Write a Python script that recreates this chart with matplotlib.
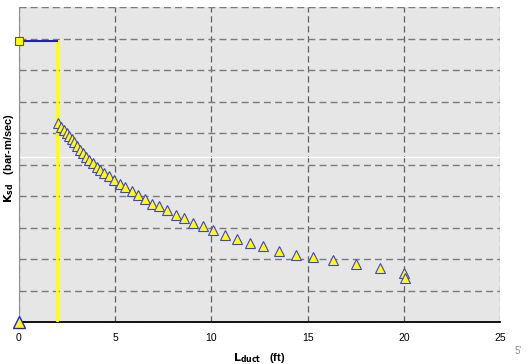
import matplotlib
matplotlib.use("Agg")
import matplotlib.pyplot as plt

plt.rcParams['font.family'] = ['Liberation Sans', 'DejaVu Sans']

# duct length (ft) and K_sd values (arbitrary y units, 10 grid steps)
l_duct = [2.03, 2.20, 2.34, 2.49, 2.60, 2.75, 2.87, 3.01, 3.17, 3.32,
          3.48, 3.64, 3.84, 4.05, 4.21, 4.42, 4.66, 4.95, 5.25, 5.51,
          5.87, 6.18, 6.55, 6.91, 7.27, 7.69, 8.16, 8.57, 9.04, 9.56,
          10.08, 10.70, 11.32, 12.00, 12.68, 13.50, 14.40, 15.27, 16.30, 17.50,
          18.75, 20.00, 20.05]
k_sd = [6.32, 6.19, 6.10, 6.00, 5.89, 5.81, 5.70, 5.59, 5.47, 5.37,
        5.25, 5.14, 5.04, 4.92, 4.83, 4.73, 4.62, 4.52, 4.38, 4.29,
        4.16, 4.03, 3.90, 3.76, 3.68, 3.56, 3.40, 3.30, 3.14, 3.05,
        2.92, 2.76, 2.63, 2.51, 2.41, 2.25, 2.13, 2.05, 1.97, 1.84,
        1.71, 1.56, 1.40]

# reference marker (square) and min length line
x_ref = [0, 2]
y_ref = [8.92, 8.92]
x_min = [2, 2]
y_min = [8.92, 0]

xticks = [0, 5, 10, 15, 20, 25]

fig = plt.figure(figsize=(5.29, 3.64), dpi=100)
ax = fig.add_axes([19/529, 42/364, 481/529, 315/364])
ax.set_facecolor("#e6e6e6")

ax.set_xlim(0, 25)
ax.set_ylim(0, 10)
ax.set_xticks(xticks)
ax.set_yticks(range(0, 11))
ax.set_yticklabels([])
ax.tick_params(length=0, labelsize=7.5, pad=8)

ax.grid(axis="x", color="#606060", ls=(0, (5, 3)), lw=0.9)
ax.grid(axis="y", color="#7a7a7a", ls=(0, (5, 3)), lw=1.0)
ax.set_axisbelow(True)
ax.axhline(5.25, color="white", lw=1.0, zorder=1)

for s in ["top", "right"]:
    ax.spines[s].set_visible(False)
ax.spines["left"].set_color("#909090")
ax.spines["left"].set_linewidth(0.8)
ax.spines["bottom"].set_color("black")
ax.spines["bottom"].set_linewidth(1.3)

ax.plot(x_min, y_min, color="#ffff00", lw=2, zorder=3)
ax.plot(x_ref, y_ref, color="#2020c0", lw=1.5, zorder=3)
ax.plot([0], [8.92], marker="s", ms=6, mfc="#ffff00", mec="#606000",
        mew=0.8, ls="none", zorder=5, clip_on=False)

ax.plot(l_duct, k_sd, marker="^", ms=7.5, mfc="#ffff00", mec="#4040e0",
        mew=0.8, ls="none", zorder=4)
ax.plot([0], [0], marker="^", ms=8.5, mfc="#ffff00", mec="#2020e0",
        mew=1.0, ls="none", zorder=6, clip_on=False)

ax.set_xlabel(r"$\mathbf{L_{duct}}$   (ft)", fontsize=8, fontweight="bold", labelpad=6)
# y label sits in the narrow margin left of the axes
fig.text(9/529, 1 - 158/364, r"$\mathbf{K_{sd}}$   (bar-m/sec)", fontsize=8,
         fontweight="bold", rotation=90, ha="center", va="center")

fig.text(0.972, 0.028, "5'", color="#909090", fontsize=7)

fig.savefig("out.png", dpi=100)
